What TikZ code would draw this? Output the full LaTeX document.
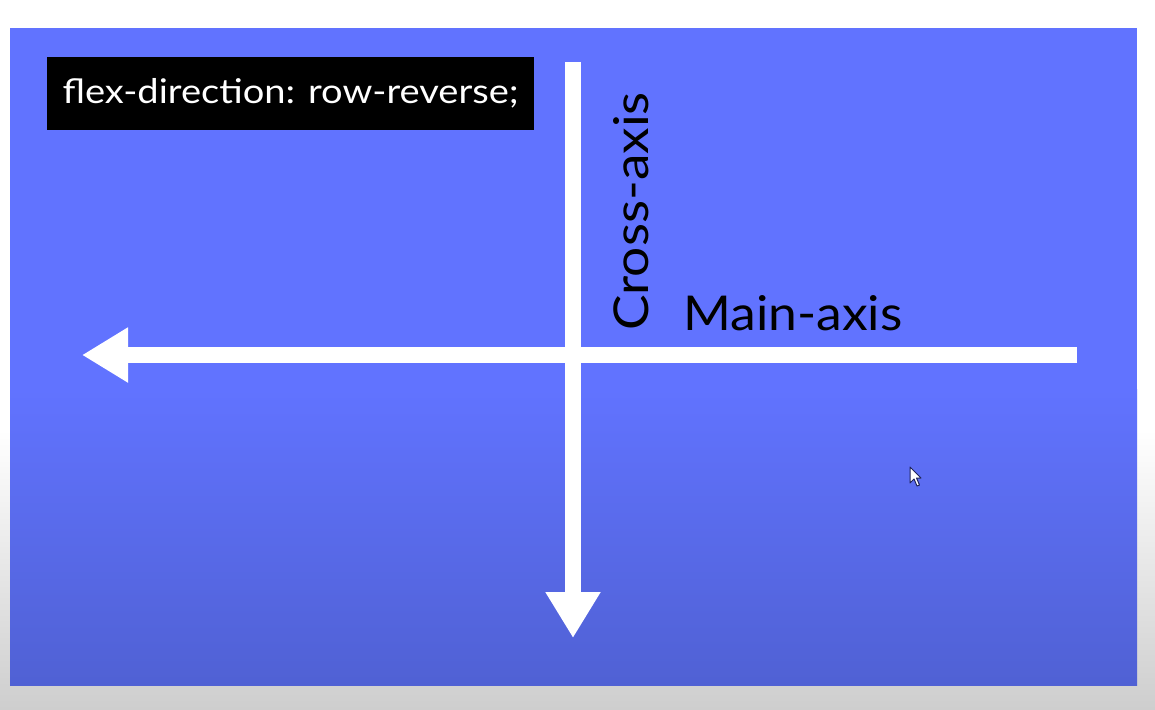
\documentclass[tikz,border=0pt]{standalone}
\usepackage{fontspec}
\setmainfont{Lato}
\newfontfamily\codefont[FakeStretch=1.12]{Lato}
\newfontfamily\mainfont[FakeStretch=1.075]{Lato}
\newfontfamily\crossfont[FakeStretch=1.11]{Lato}
\usetikzlibrary{arrows.meta}
\definecolor{blueTop}{RGB}{97,115,255}
\definecolor{blueBot}{RGB}{80,97,212}
\definecolor{pageGray}{RGB}{206,206,206}
\definecolor{cursorEdge}{RGB}{30,35,90}
\tikzset{
  axisline/.style={draw=white,line width=16pt,line cap=butt,
    -{Triangle[length=46pt,width=52pt]}},
  axislabel/.style={inner sep=0pt,text=black},
  codebox/.style={fill=black,text=white,inner sep=0pt,minimum width=487pt,minimum height=73pt,
    font=\codefont\fontsize{34}{34}\selectfont}
}
\begin{document}
\begin{tikzpicture}[x=1pt,y=-1pt]
\useasboundingbox (0,0) rectangle (1155,709);
% page background
\fill[white] (0,0) rectangle (1155,709);
\shade[top color=white,bottom color=pageGray] (0,430) rectangle (1155,709);
% blue slide
\fill[blueTop] (10,28) rectangle (1137,390);
\shade[top color=blueTop,bottom color=blueBot] (10,389) rectangle (1137,685);
% code label
\node[codebox,anchor=north west] (code) at (47,57) {flex-direction: row-reverse;};
% axes
\coordinate (mainStart) at (1077,355);
\coordinate (mainEnd) at (82,355);
\coordinate (crossStart) at (573,62);
\coordinate (crossEnd) at (573,638);
\draw[axisline] (mainStart) -- (mainEnd);
\draw[axisline] (crossStart) -- (crossEnd);
% labels
\node[axislabel,anchor=base west,font=\mainfont\fontsize{48}{48}\selectfont] (mainlab) at (683,330) {Main-axis};
\node[axislabel,anchor=base west,rotate=90,font=\crossfont\fontsize{48}{48}\selectfont] (crosslab) at (648,331) {Cross-axis};
% mouse cursor
\filldraw[fill=white,draw=cursorEdge,line width=1pt,line join=round]
  (910,467) -- (910,483) -- (914,479) -- (917,486) -- (919.5,485) -- (916.5,478) -- (921,478) -- cycle;
\end{tikzpicture}
\end{document}
